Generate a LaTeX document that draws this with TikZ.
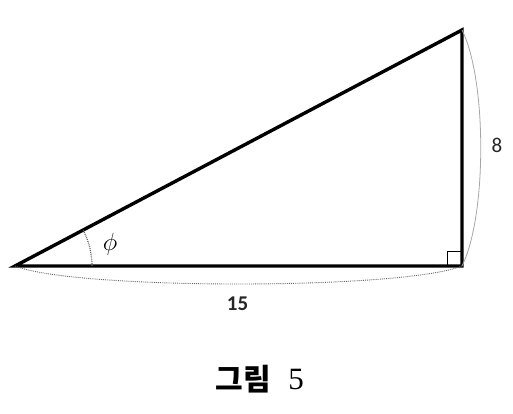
\documentclass[tikz,border=0pt]{standalone}
\usepackage{fontspec}
\setmainfont{Liberation Serif}
\newfontfamily\krfont{Noto Sans CJK KR}
\newfontfamily\calfont{Carlito}
\usetikzlibrary{calc}
\begin{document}
\begin{tikzpicture}[x=1pt,y=-1pt,
  side/.style={line width=3.4pt,line join=miter},
  rightmark/.style={line width=0.9pt},
  guide/.style={black!60,line width=0.9pt,densely dotted},
  guidesolid/.style={gray!70,line width=0.8pt},
  lab/.style={inner sep=0pt,font=\calfont\fontsize{21}{21}\selectfont,text=black!85}]
\useasboundingbox (0,0) rectangle (513,413);
\coordinate (A) at (15,266);
\coordinate (B) at (462,266);
\coordinate (C) at (462,30);
\draw[side] (A) -- (B) -- (C) -- cycle;
\draw[rightmark] (447,266) -- (447,251) -- (462,251);
\draw[guide,line width=1.3pt] ($(A)+(77,0)$) arc[start angle=0,end angle=-27.8,radius=77];
\draw[guide] (A) .. controls (75,290) and (402,290) .. (B);
\draw[guidesolid] (C) .. controls (487,80) and (487,216) .. (B);
\node[inner sep=0pt,font=\fontsize{28}{28}\selectfont] (phi) at (110,244) {$\phi$};
\node[lab,font=\calfont\bfseries\fontsize{21}{21}\selectfont] (l15) at (237.5,304) {15};
\node[lab] (l8) at (497,145.5) {8};
\node[inner sep=0pt,font=\krfont\bfseries\fontsize{30}{30}\selectfont] (cap) at (243.5,379) {그림};
\node[inner sep=0pt,font=\fontsize{31}{31}\selectfont] (num) at (296,379) {5};
\end{tikzpicture}
\end{document}
